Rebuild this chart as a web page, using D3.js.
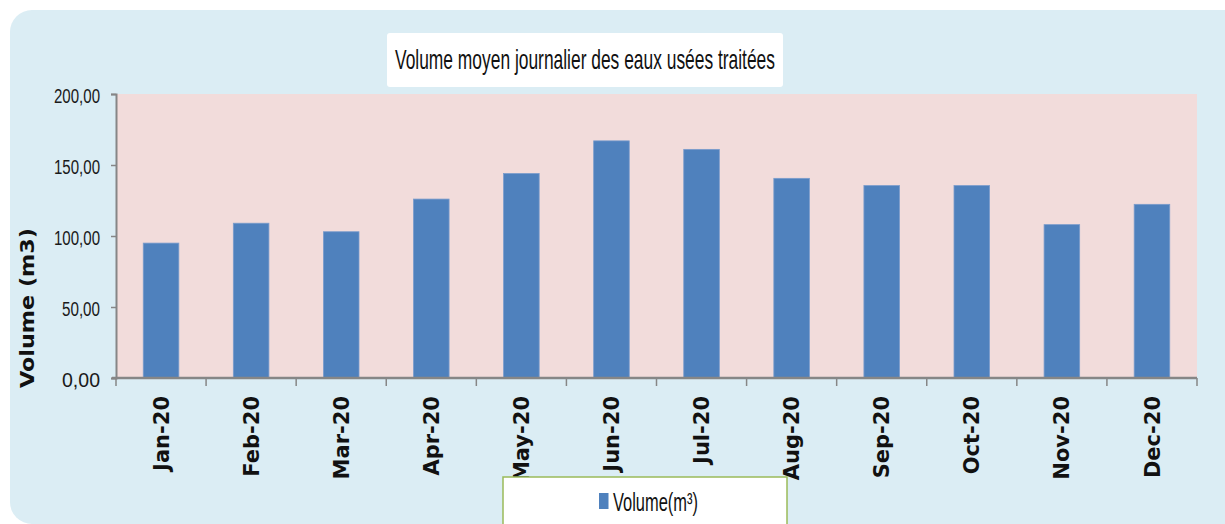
<!DOCTYPE html>
<html>
<head>
<meta charset="utf-8">
<script src="https://cdn.jsdelivr.net/npm/d3@7"></script>
<style>
  html, body { margin: 0; padding: 0; background: #ffffff; }
  svg { display: block; }
</style>
</head>
<body>
<svg id="chart" width="1225" height="524"></svg>
<script>
const categories = ["Jan-20","Feb-20","Mar-20","Apr-20","May-20","Jun-20","Jul-20","Aug-20","Sep-20","Oct-20","Nov-20","Dec-20"];
const volumes = [95, 109, 103, 126, 144, 167, 161, 140.6, 135.5, 135.5, 108, 122.3];
const yTicks = [0, 50, 100, 150, 200];
const titleText = "Volume moyen journalier des eaux usées traitées";
const yTitle = "Volume (m3)";
const legendLabel = "Volume(m³)";

const svg = d3.select("#chart");
const plot = { left: 116, right: 1197, top: 94, bottom: 378 };
const narrow = "'Liberation Sans', Arial, sans-serif";

// outer rounded background
svg.append("rect").attr("x", 10).attr("y", 10).attr("width", 1260).attr("height", 514)
  .attr("rx", 22).attr("fill", "#dbedf4");

const x = d3.scaleBand().domain(categories).range([plot.left, plot.right]).padding(0);
const y = d3.scaleLinear().domain([0, 200]).range([plot.bottom, plot.top]);

// plot area
svg.append("rect").attr("x", plot.left).attr("y", plot.top)
  .attr("width", plot.right - plot.left).attr("height", plot.bottom - plot.top)
  .attr("fill", "#f2dcdb");

// bars
const barW = x.bandwidth() * 0.395;
svg.append("g").selectAll("rect").data(categories).join("rect")
  .attr("x", (d) => x(d) + (x.bandwidth() - barW) / 2)
  .attr("y", (d, i) => y(volumes[i]))
  .attr("width", barW)
  .attr("height", (d, i) => y(0) - y(volumes[i]))
  .attr("fill", "#4f81bd")
  .attr("stroke", "#7a9ccc").attr("stroke-width", 0.8);

// y axis
const yAxis = d3.axisLeft(y).tickValues(yTicks).tickSize(5).tickPadding(11)
  .tickFormat(d => d3.format(".2f")(d).replace(".", ","));
const gy = svg.append("g").attr("transform", `translate(${plot.left},0)`).call(yAxis);
gy.select(".domain").attr("stroke", "#868686").attr("stroke-width", 2);
gy.selectAll(".tick line").attr("stroke", "#868686").attr("stroke-width", 1.5);
gy.selectAll(".tick text")
  .attr("font-family", narrow)
  .attr("font-size", 20).attr("fill", "#1a1a1a")
  .attr("dy", "0.42em")
  .attr("textLength", d => d >= 100 ? 46 : 38).attr("lengthAdjust", "spacingAndGlyphs");

// x axis: ticks at band boundaries
const gx = svg.append("g");
gx.append("line").attr("x1", plot.left - 4).attr("x2", plot.right)
  .attr("y1", plot.bottom).attr("y2", plot.bottom)
  .attr("stroke", "#868686").attr("stroke-width", 2.5);
const boundaries = categories.map(d => x(d)).concat([plot.right]);
gx.selectAll("line.tk").data(boundaries).join("line").attr("class", "tk")
  .attr("x1", d => d).attr("x2", d => d)
  .attr("y1", plot.bottom).attr("y2", plot.bottom + 8)
  .attr("stroke", "#868686").attr("stroke-width", 1.5);
gx.selectAll("text").data(categories).join("text")
  .attr("transform", d => `translate(${x(d) + x.bandwidth() / 2},${plot.bottom + 18}) rotate(-90)`)
  .attr("text-anchor", "end").attr("dy", "0.36em")
  .attr("font-family", "'DejaVu Sans', Verdana, sans-serif")
  .attr("font-weight", "bold").attr("font-size", 21).attr("fill", "#111")
  .text(d => d);

// y title
svg.append("text")
  .attr("transform", `translate(27,308) rotate(-90)`)
  .attr("text-anchor", "middle").attr("dy", "0.36em")
  .attr("font-family", "'DejaVu Sans', Verdana, sans-serif")
  .attr("font-weight", "bold").attr("font-size", 20).attr("fill", "#111")
  .attr("textLength", 160).attr("lengthAdjust", "spacingAndGlyphs")
  .text(yTitle);

// title box
svg.append("rect").attr("x", 387).attr("y", 33).attr("width", 396).attr("height", 54)
  .attr("rx", 3).attr("fill", "#ffffff");
svg.append("text").attr("x", 395).attr("y", 69)
  .attr("font-family", narrow)
  .attr("font-size", 28).attr("fill", "#111")
  .attr("textLength", 380).attr("lengthAdjust", "spacingAndGlyphs")
  .text(titleText);

// legend
svg.append("rect").attr("x", 503).attr("y", 477).attr("width", 284).attr("height", 60)
  .attr("fill", "#ffffff").attr("stroke", "#9bbb59").attr("stroke-width", 1.5);
svg.append("rect").attr("x", 599).attr("y", 493).attr("width", 9.5).attr("height", 16)
  .attr("fill", "#4f81bd");
svg.append("text").attr("x", 613).attr("y", 511)
  .attr("font-family", narrow)
  .attr("font-size", 26).attr("fill", "#111")
  .attr("textLength", 85).attr("lengthAdjust", "spacingAndGlyphs")
  .text(legendLabel);
</script>
</body>
</html>
